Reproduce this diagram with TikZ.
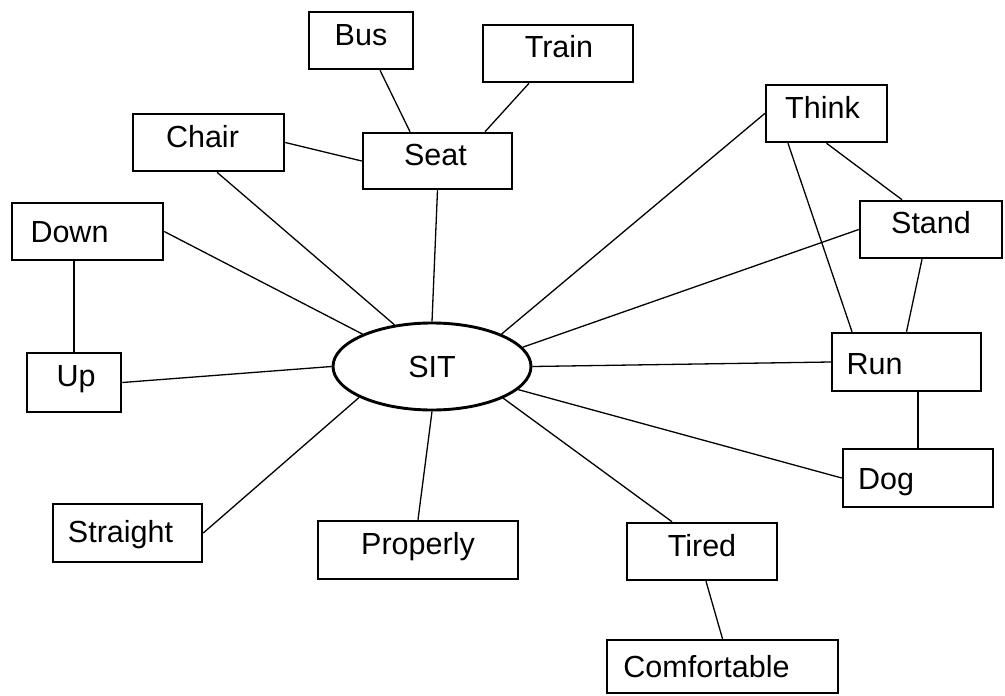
\documentclass[tikz,border=0pt]{standalone}
\usepackage{fontspec}
\setmainfont{Liberation Sans}
\usepackage{tikz}
\usetikzlibrary{positioning,shapes.geometric}
\newcommand{\wordfont}{\fontsize{15.25pt}{18pt}\selectfont}
\newcommand{\shiftword}[3]{\raisebox{#2}{\makebox[0pt]{\hspace*{#1}#3}}}
\tikzset{
  box/.style={draw,line width=1.25pt,minimum width=75pt,minimum height=28.5pt,inner sep=0pt,
    text height=10.9pt,text depth=0pt,font=\wordfont},
  hub/.style={draw,ellipse,line width=1.45pt,minimum width=99pt,minimum height=43.5pt,inner sep=0pt,
    text height=10.9pt,text depth=0pt,font=\wordfont},
  ln/.style={line width=0.65pt},
}
\begin{document}
\begin{tikzpicture}[x=0.5pt,y=-0.5pt]
  \useasboundingbox (0,0) rectangle (1005,695);
  \node[hub] (sit) at (432,366.5) {SIT};
  \node[box,minimum width=52pt] (bus) at (361,40.5) {\shiftword{0pt}{2.75pt}{Bus}};
  \node[box] (train) at (558,53.5) {\shiftword{1pt}{3.25pt}{Train}};
  \node[box,minimum width=74.5pt,minimum height=28pt] (seat) at (437.5,161) {\shiftword{-2pt}{3pt}{Seat}};
  \node[box,minimum width=75.5pt] (chair) at (208.5,142.5) {\shiftword{-6pt}{2.75pt}{Chair}};
  \node[box,minimum width=60.5pt] (think) at (826.5,113.5) {\shiftword{-4pt}{2.75pt}{Think}};
  \node[box,minimum width=71pt] (stand) at (931,229.5) {\shiftword{0pt}{3.25pt}{Stand}};
  \node[box,minimum width=75.5pt] (down) at (87.5,231.5) {\shiftword{-18pt}{0pt}{Down}};
  \node[box,minimum width=47pt,minimum height=29.5pt] (up) at (74,382.5) {\shiftword{2pt}{3.25pt}{Up}};
  \node[box,minimum width=74.5pt,minimum height=29pt] (run) at (906.5,362) {\shiftword{-32pt}{-1pt}{Run}};
  \node[box,minimum height=29pt] (dog) at (918,478) {\shiftword{-32pt}{-0.5pt}{Dog}};
  \node[box,minimum width=74.5pt,minimum height=29pt] (straight) at (127.5,533) {\shiftword{-7pt}{0.5pt}{Straight}};
  \node[box,minimum width=100pt,minimum height=29pt] (properly) at (418,550) {\shiftword{0pt}{3pt}{Properly}};
  \node[box] (tired) at (702,551.5) {\shiftword{0pt}{2.75pt}{Tired}};
  \node[box,minimum width=115.5pt,minimum height=26.5pt] (comf) at (722.5,666.5) {\shiftword{-16pt}{0pt}{Comfortable}};
  \draw[ln] ([xshift=9.5pt]bus.south) -- ([xshift=-13.75pt]seat.north);
  \draw[ln] ([xshift=-14.5pt]train.south) -- ([xshift=23.75pt]seat.north);
  \draw[ln] (chair.east) -- (seat.west);
  \draw[ln] ([xshift=4.25pt]chair.south) -- (sit.132.3);
  \draw[ln] (seat.south) -- (sit.north);
  \draw[ln] (down.east) -- (sit.155.2);
  \draw[ln] (up.north) -- (up.north |- down.south);
  \draw[ln] (up.east) -- (sit.west);
  \draw[ln] (straight.east) -- (sit.203.6);
  \draw[ln] (properly.north) -- (sit.south);
  \draw[ln] ([xshift=-15pt]tired.north) -- (sit.-24.6);
  \draw[ln] ([xshift=2pt]tired.south) -- (comf.north);
  \draw[ln] (dog.west) -- (sit.-15.4);
  \draw[ln] (run.west) -- (sit.east);
  \draw[ln] (stand.west) -- (sit.12.4);
  \draw[ln] (think.west) -- (sit.25.4);
  \draw[ln] ([xshift=-19.25pt]think.south) -- ([xshift=-27.25pt]run.north);
  \draw[ln] (think.south) -- ([xshift=-14.5pt]stand.north);
  \draw[ln] ([xshift=-4.5pt]stand.south) -- (run.north);
  \draw[ln] (dog.north) -- (dog.north |- run.south);
\end{tikzpicture}
\end{document}
